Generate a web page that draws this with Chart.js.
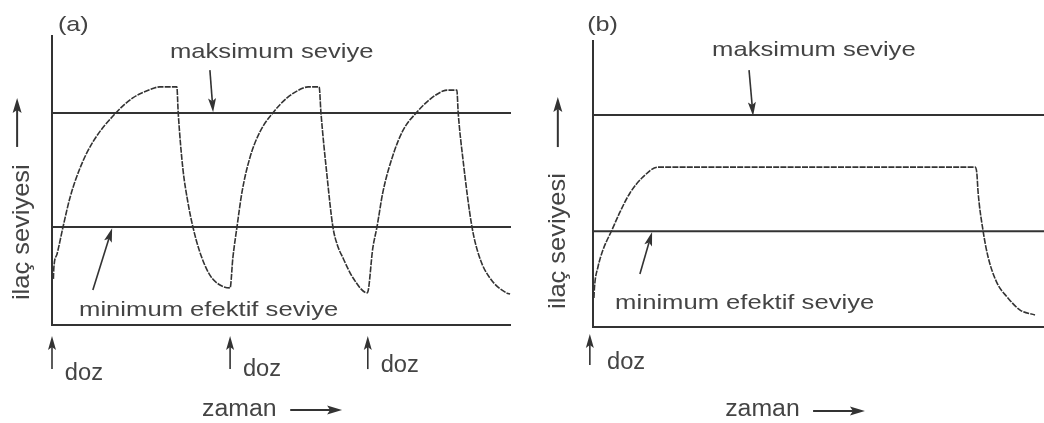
<!DOCTYPE html>
<html>
<head>
<meta charset="utf-8">
<script src="https://cdn.jsdelivr.net/npm/chart.js@4.4.1/dist/chart.umd.min.js"></script>
<style>
  html, body { margin: 0; padding: 0; background: #fff; }
  .wrap { position: relative; width: 1044px; height: 423px; overflow: hidden; }
  .panel { position: absolute; top: 0; }
  #panelA { left: 0; }
  #panelB { left: 520px; }
</style>
</head>
<body>
<div class="wrap">
  <div class="panel" id="panelA"><canvas id="chartA" width="520" height="423"></canvas></div>
  <div class="panel" id="panelB"><canvas id="chartB" width="524" height="423"></canvas></div>
</div>
<script>
// (a) tekrarlanan dozlar - zaman / ilaç seviyesi (0-100 göreli birim)
const timeA = [0.3, 0.4, 1.1, 2.4, 3.9, 6.1, 8.9, 13.9, 17.6, 21.4, 23.5, 27.2,
  27.5, 28.5, 29.6, 30.7, 32.2, 34.4, 36.6, 38.8,
  39.4, 40.3, 41.4, 43.1, 45.3, 48.1, 51.2, 54.7, 55.8, 58.2,
  58.6, 59.9, 61.2, 62.1, 63.4, 65.6, 68.7,
  69.9, 70.8, 72.1, 74.3, 76.5, 79.5, 82.4, 85.2, 86.1, 88.2,
  88.5, 89.5, 91.5, 93.2, 95.4, 99.1, 99.8];
const levelA = [15.9, 19.7, 24.5, 33.8, 43.8, 54.1, 63.1, 73.1, 78.3, 81.2, 82.1, 82.1,
  73.1, 54.1, 42.4, 33.8, 25.2, 17.2, 13.8, 12.8,
  23.1, 33.8, 45.9, 57.6, 66.6, 73.1, 78.3, 81.7, 82.1, 82.1,
  73.1, 51.7, 33.8, 27.9, 23.1, 16.2, 11.1,
  26.6, 33.8, 45.9, 58.6, 67.2, 73.4, 77.9, 80.7, 81.0, 81.0,
  73.1, 57.6, 33.8, 23.1, 16.2, 11.0, 10.7];
const maxLevelA = 73.1;
const minLevelA = 33.8;
const doseTimesA = [0, 38.8, 68.8];

// (b) tek doz, kontrollü salım
const timeB = [0.2, 0.33, 1.1, 2.2, 4.2, 6.0, 8.2, 11.1, 14.4,
  84.7, 85.1, 85.4, 86.5, 87.6, 89.6, 91.8, 94.7, 98.0];
const levelB = [10.1, 13.9, 20.9, 26.8, 33.8, 40.1, 46.7, 52.3, 55.7,
  55.7, 53.7, 46.7, 33.4, 24.4, 15.3, 10.5, 5.9, 4.2];
const maxLevelB = 73.9;
const minLevelB = 33.4;
const doseTimesB = [-0.7];

const TXT_MAX = "maksimum seviye";
const TXT_MIN = "minimum efektif seviye";
const TXT_DOSE = "doz";
const TXT_TIME = "zaman";
const TXT_LEVEL = "ilaç seviyesi";

const INK = "#333333";
const TEXT_INK = "#444444";
const FONT = "'Liberation Sans', Arial, sans-serif";

function toPoints(xs, ys) {
  return xs.map((t, i) => ({ x: t, y: ys[i] }));
}

// ok: gövde + dolu, çentikli uç
function arrow(ctx, x1, y1, x2, y2, len = 13, half = 3.5) {
  const ang = Math.atan2(y2 - y1, x2 - x1);
  const c = Math.cos(ang), s = Math.sin(ang);
  const bx = x2 - len * c, by = y2 - len * s;
  ctx.beginPath();
  ctx.moveTo(x1, y1);
  ctx.lineTo(bx + 3 * c, by + 3 * s);
  ctx.stroke();
  ctx.beginPath();
  ctx.moveTo(x2, y2);
  ctx.lineTo(bx - half * s, by + half * c);
  ctx.lineTo(bx + 3 * c, by + 3 * s);
  ctx.lineTo(bx + half * s, by - half * c);
  ctx.closePath();
  ctx.fill();
}

function text(ctx, str, x, y, size, sx = 1, rot = 0) {
  ctx.save();
  ctx.translate(x, y);
  if (rot) ctx.rotate(rot);
  ctx.scale(sx, 1);
  ctx.font = size + "px " + FONT;
  ctx.fillText(str, 0, 0);
  ctx.restore();
}

// eksenler, metinler ve oklar - konumlar veri biriminde
const sketchPlugin = {
  id: "sketch",
  afterDatasetsDraw(chart, args, o) {
    const { ctx, chartArea: a, scales } = chart;
    const X = v => scales.x.getPixelForValue(v);
    const Y = v => scales.y.getPixelForValue(v);
    ctx.save();
    ctx.strokeStyle = INK;
    ctx.fillStyle = INK;
    ctx.lineWidth = 2;
    ctx.beginPath();
    ctx.moveTo(a.left, a.top);
    ctx.lineTo(a.left, a.bottom);
    ctx.lineTo(a.right, a.bottom);
    ctx.stroke();

    ctx.lineWidth = 1.6;
    arrow(ctx, X(o.maxArrow[0]), Y(o.maxArrow[1]), X(o.maxArrow[2]), Y(o.maxArrow[3]), 14, 4);
    arrow(ctx, X(o.minArrow[0]), Y(o.minArrow[1]), X(o.minArrow[2]), Y(o.minArrow[3]), 14, 4);
    o.doses.forEach(t => {
      arrow(ctx, X(t), Y(o.doseArrow[0]), X(t), Y(o.doseArrow[1]), 14, 4);
    });
    ctx.lineWidth = 2;
    arrow(ctx, X(o.timeArrow[0]), Y(o.timeArrow[2]), X(o.timeArrow[1]), Y(o.timeArrow[2]), 15, 4.5);
    arrow(ctx, X(o.levelArrow[0]), Y(o.levelArrow[1]), X(o.levelArrow[0]), Y(o.levelArrow[2]), 15, 4.5);

    ctx.fillStyle = TEXT_INK;
    ctx.textAlign = "left";
    ctx.textBaseline = "alphabetic";
    text(ctx, o.tag[0], X(o.tag[1]), Y(o.tag[2]), 21, 1.2);
    text(ctx, TXT_MAX, X(o.maxText[0]), Y(o.maxText[1]), 21, 1.22);
    text(ctx, TXT_MIN, X(o.minText[0]), Y(o.minText[1]), 21, 1.22);
    o.doses.forEach((t, i) => {
      text(ctx, TXT_DOSE, X(t + o.doseLabel[0]), Y(o.doseLabel[1 + i]), 23, 1.03);
    });
    text(ctx, TXT_TIME, X(o.timeText[0]), Y(o.timeText[1]), 23, 1.08);
    text(ctx, TXT_LEVEL, X(o.levelText[0]), Y(o.levelText[1]), 24, 1.06, -Math.PI / 2);
    ctx.restore();
  }
};

function makeChart(id, xs, ys, maxL, minL, padding, notes) {
  return new Chart(document.getElementById(id), {
    type: "line",
    data: {
      datasets: [
        {
          data: toPoints(xs, ys),
          borderColor: INK,
          borderWidth: 1.6,
          borderDash: [6, 1.2],
          pointRadius: 0,
          cubicInterpolationMode: "monotone",
          fill: false
        },
        {
          data: [{ x: 0, y: maxL }, { x: 100, y: maxL }],
          borderColor: INK,
          borderWidth: 2,
          pointRadius: 0
        },
        {
          data: [{ x: 0, y: minL }, { x: 100, y: minL }],
          borderColor: INK,
          borderWidth: 2,
          pointRadius: 0
        }
      ]
    },
    options: {
      responsive: false,
      animation: false,
      devicePixelRatio: 1,
      layout: { padding: padding },
      scales: {
        x: { type: "linear", min: 0, max: 100, display: false },
        y: { type: "linear", min: 0, max: 100, display: false }
      },
      plugins: {
        legend: { display: false },
        tooltip: { enabled: false },
        sketch: notes
      }
    },
    plugins: [sketchPlugin]
  });
}

makeChart("chartA", timeA, levelA, maxLevelA, minLevelA,
  { left: 52, right: 9, top: 35, bottom: 98 },
  {
    tag: ["(a)", 1.3, 101.4],
    maxText: [25.7, 92.1],
    maxArrow: [34.4, 87.9, 35.1, 73.4],
    minText: [5.9, 3.1],
    minArrow: [8.9, 12.1, 13.1, 33.4],
    doses: doseTimesA,
    doseArrow: [-15.2, -3.8],
    doseLabel: [2.8, -19.0, -17.6, -16.2],
    timeText: [32.7, -31.4],
    timeArrow: [51.9, 63.2, -29.3],
    levelText: [-5.0, 8.6],
    levelArrow: [-7.6, 61.4, 78.3]
  });

makeChart("chartB", timeB, levelB, maxLevelB, minLevelB,
  { left: 73, right: 0, top: 40, bottom: 96 },
  {
    tag: ["(b)", -1.3, 103.1],
    maxText: [26.4, 94.4],
    maxArrow: [34.6, 89.5, 35.5, 73.5],
    minText: [4.9, 6.3],
    minArrow: [10.4, 18.5, 13.1, 33.1],
    doses: doseTimesB,
    doseArrow: [-13.2, -2.4],
    doseLabel: [3.8, -14.6],
    timeText: [29.3, -31.0],
    timeArrow: [48.8, 60.3, -29.3],
    levelText: [-6.2, 6.3],
    levelArrow: [-7.8, 62.7, 80.1]
  });
</script>
</body>
</html>
